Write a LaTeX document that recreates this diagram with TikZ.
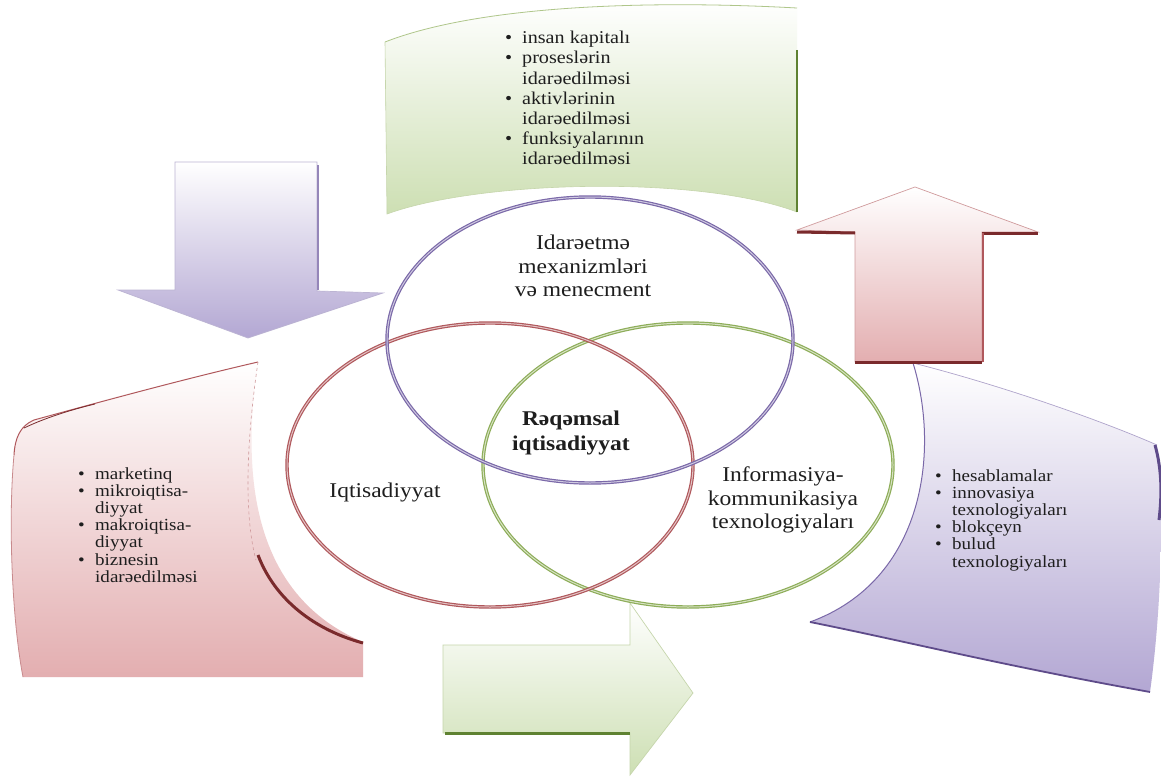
\documentclass[tikz,border=0pt]{standalone}
\usepackage{fontspec}
\setmainfont[FakeStretch=1.12]{Liberation Serif}
\definecolor{pur}{HTML}{7A68A8}
\definecolor{purd}{HTML}{5E4B8A}
\definecolor{purl}{HTML}{B3A7D3}
\definecolor{redc}{HTML}{B0585C}
\definecolor{redd}{HTML}{7A2A2C}
\definecolor{redl}{HTML}{E3AEB0}
\definecolor{grn}{HTML}{8DAD58}
\definecolor{grnd}{HTML}{5F8232}
\definecolor{grnl}{HTML}{CDDFB3}
\definecolor{txt}{HTML}{1E1E1E}
\newcommand\bul{\makebox[17pt][l]{\textbullet}}
\newcommand\ind{\hspace*{17pt}}
\tikzset{
  ctext/.style={align=center,inner sep=0pt,text=txt,font=\fontsize{21}{23.5}\selectfont},
  btext/.style={align=left,inner sep=0pt,text=txt,anchor=north west},
  ringdark/.style={line width=3.4pt},
  ringlight/.style={line width=1pt}
}
\begin{document}
\begin{tikzpicture}[x=1pt,y=-1pt]
\useasboundingbox[fill=white] (0,0) rectangle (1161,781);

% ---------- top green banner ----------
\shade[top color=white,bottom color=grnl]
  (385,42) .. controls (480,5) and (650,0) .. (797,8) -- (797,212)
  .. controls (700,175) and (480,180) .. (387,214) -- cycle;
\draw[grn!70,line width=0.8pt] (385,42) .. controls (480,5) and (650,0) .. (797,8);
\draw[grn!50,line width=0.6pt] (385,42) -- (387,214) .. controls (480,180) and (700,175) .. (797,212);
\draw[grnd,line width=1.6pt] (797,50) -- (797,212);

% ---------- left red sheet ----------
\shade[top color=white,bottom color=redl]
  (14,455) .. controls (15,438) and (20,426) .. (34,420)
  .. controls (100,402) and (180,380) .. (258,362)
  .. controls (245,450) and (240,590) .. (363,642) -- (363,677) -- (23,677)
  .. controls (12,620) and (8,520) .. (14,455) -- cycle;
\draw[redc,line width=1pt] (14,455) .. controls (15,438) and (20,426) .. (34,420)
  .. controls (100,402) and (180,380) .. (258,362);
\draw[redd,line width=0.8pt] (24,428) .. controls (45,418) and (70,410) .. (95,404);
\draw[redc!60,line width=0.6pt,dashed] (258,362) .. controls (245,450) and (245,520) .. (256,560);
\draw[redc!70,line width=0.8pt] (14,455) .. controls (8,520) and (12,620) .. (23,677);
\draw[redd,line width=3pt] (258,555) .. controls (275,600) and (315,630) .. (363,643);

% ---------- right purple sheet ----------
\shade[top color=white,bottom color=purl]
  (913,363) .. controls (1000,385) and (1100,420) .. (1157,445)
  .. controls (1165,520) and (1160,620) .. (1150,692)
  .. controls (1000,665) and (900,640) .. (810,622)
  .. controls (925,580) and (940,450) .. (913,363) -- cycle;
\draw[pur!60,line width=0.7pt] (913,363) .. controls (1000,385) and (1100,420) .. (1157,445);
\draw[pur,line width=1pt] (810,622) .. controls (925,580) and (940,450) .. (913,363);
\draw[purd,line width=1.8pt] (1150,692) .. controls (1000,665) and (900,640) .. (810,622);
\draw[purd,line width=3pt] (1155,445) .. controls (1162,470) and (1162,495) .. (1159,520);

% ---------- purple down arrow ----------
\shade[top color=white,bottom color=purl]
  (175,162) -- (317,162) -- (317,291) -- (383,293) -- (248,338) -- (118,290) -- (175,290) -- cycle;
\draw[pur!50,line width=0.7pt]
  (175,162) -- (317,162) -- (317,291) -- (383,293) -- (248,338) -- (118,290) -- (175,290) -- cycle;
\draw[pur!80,line width=1.6pt] (318,165) -- (318,290);

% ---------- red up arrow ----------
\shade[top color=white,bottom color=redl]
  (915,187) -- (1038,232) -- (982,232) -- (982,362) -- (855,362) -- (855,232) -- (797,230) -- cycle;
\draw[redc!60,line width=0.7pt]
  (915,187) -- (1038,232) -- (982,232) -- (982,362) -- (855,362) -- (855,232) -- (797,230) -- cycle;
\draw[redd,line width=3pt] (797,232) -- (855,233);
\draw[redd,line width=3pt] (982,233) -- (1038,233);
\draw[redd,line width=3pt] (855,362) -- (982,362);
\draw[redc,line width=1.5pt] (983,233) -- (983,362);

% ---------- green right arrow ----------
\shade[top color=white,bottom color=grnl]
  (443,645) -- (630,645) -- (630,603) -- (693,693) -- (630,775) -- (630,733) -- (443,733) -- cycle;
\draw[grn!50,line width=0.7pt]
  (443,645) -- (630,645) -- (630,603) -- (693,693) -- (630,775) -- (630,733) -- (443,733) -- cycle;
\draw[grnd,line width=3pt] (445,733) -- (630,733);

% ---------- Venn ellipses ----------
\draw[grn,ringdark] (688,465) ellipse [x radius=205,y radius=142];
\draw[grn!35,ringlight] (688,465) ellipse [x radius=205,y radius=142];
\draw[redc,ringdark] (490,465) ellipse [x radius=203,y radius=142];
\draw[redc!35,ringlight] (490,465) ellipse [x radius=203,y radius=142];
\draw[pur,ringdark] (590,340) ellipse [x radius=203,y radius=143];
\draw[pur!35,ringlight] (590,340) ellipse [x radius=203,y radius=143];

% ---------- texts ----------
\node[ctext] (mgmt) at (583,266) {Idarəetmə\\mexanizmləri\\və menecment};
\node[ctext,font=\fontsize{21}{25}\selectfont\bfseries] (digital) at (571,433) {Rəqəmsal\\iqtisadiyyat};
\node[ctext] (econ) at (385,492) {Iqtisadiyyat};
\node[ctext] (ict) at (783,500) {Informasiya-\\kommunikasiya\\texnologiyaları};

\node[btext,font=\fontsize{18}{20.2}\selectfont] (toplist) at (505,31)
  {\bul insan kapitalı\\ \bul proseslərin\\ \ind idarəedilməsi\\ \bul aktivlərinin\\ \ind idarəedilməsi\\ \bul funksiyalarının\\ \ind idarəedilməsi};
\node[btext,font=\fontsize{17}{17.2}\selectfont] (leftlist) at (78,467)
  {\bul marketinq\\ \bul mikroiqtisa-\\ \ind diyyat\\ \bul makroiqtisa-\\ \ind diyyat\\ \bul biznesin\\ \ind idarəedilməsi};
\node[btext,font=\fontsize{17}{17.2}\selectfont] (rightlist) at (935,469)
  {\bul hesablamalar\\ \bul innovasiya\\ \ind texnologiyaları\\ \bul blokçeyn\\ \bul bulud\\ \ind texnologiyaları};
\end{tikzpicture}
\end{document}
